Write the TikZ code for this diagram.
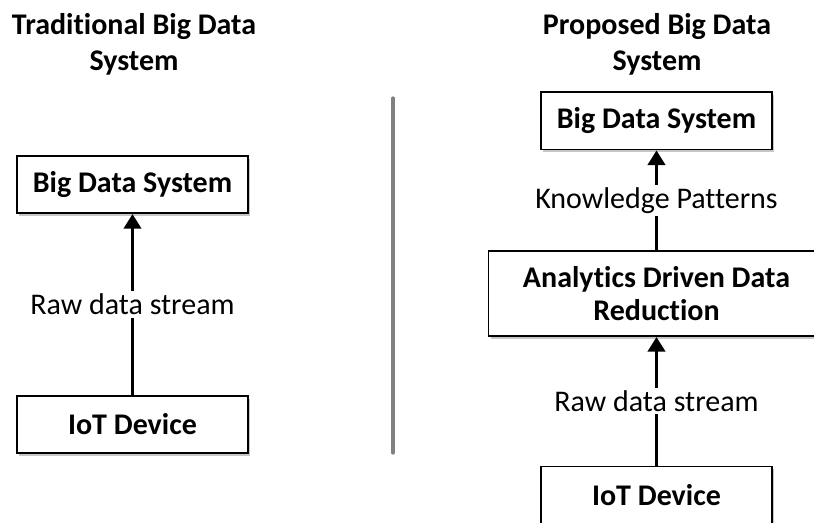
\documentclass[tikz,border=0pt]{standalone}
\usepackage{fontspec}
\setmainfont[Ligatures=NoCommon]{Carlito}
\usetikzlibrary{arrows.meta, positioning, shadows}
\tikzstyle{block} = [rectangle, draw=black, line width=1.2pt, fill=white, minimum width=173pt, minimum height=43pt, inner sep=0pt, text centered, font=\fontsize{22.5}{25}\selectfont\bfseries, drop shadow={shadow xshift=1.5pt, shadow yshift=-2pt, opacity=0.45, fill=gray}]
\tikzstyle{heading} = [align=center, font=\fontsize{22.5}{27}\selectfont\bfseries]
\tikzstyle{flow} = [line width=2.4pt, -{Triangle[width=13pt, length=11pt]}]
\tikzstyle{lbl} = [fill=white, inner sep=2pt, font=\fontsize{22.5}{26}\selectfont]

\begin{document}
\begin{tikzpicture}[x=0.75pt, y=-0.75pt]
\useasboundingbox (0,0) rectangle (814,522);
% headings
\node (trad) [heading] at (134,44) {Traditional Big Data\\System};
\node (prop) [heading] at (657,44) {Proposed Big Data\\System};
% traditional
\node (iotL) [block] at (132.5,424.5) {IoT Device};
\node (bdsL) [block, above=135.75pt of iotL] {Big Data System};
\draw [flow] (iotL) -- node[lbl] {Raw data stream} (bdsL);
% divider
\draw [gray, line width=2.4pt, line cap=round] (393,98) -- (393,453);
% proposed
\node (iotR) [block] at (656.5,495) {IoT Device};
\node (adr) [block, align=center, minimum width=252pt, minimum height=63.75pt, above=96.4pt of iotR] {Analytics Driven Data\\Reduction};
\node (bdsR) [block, above=75pt of adr] {Big Data System};
\draw [flow] (iotR) -- node[lbl] {Raw data stream} (adr);
\draw [flow] (adr) -- node[lbl] {Knowledge Patterns} (bdsR);
\end{tikzpicture}
\end{document}
